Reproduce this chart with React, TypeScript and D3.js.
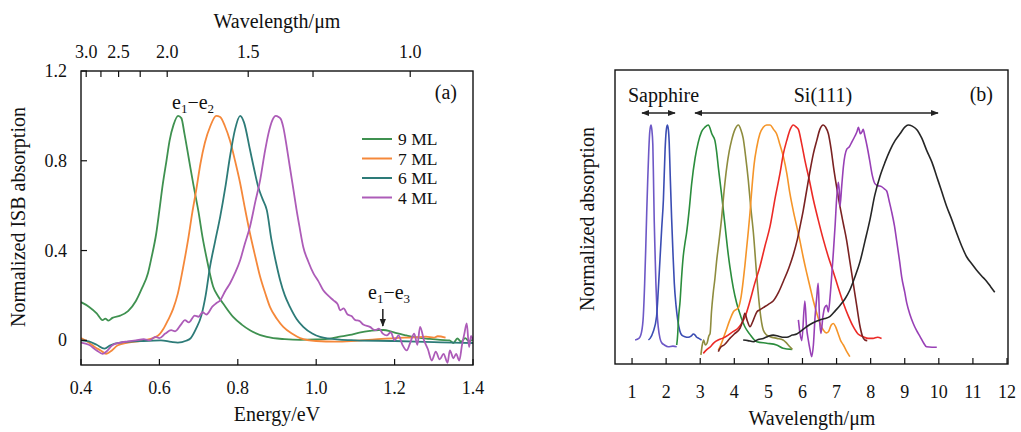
import React from "react";
import * as d3 from "d3";

type P = [number, number];

// ---------- Panel (a) data: energy (eV), normalized ISB absorption ----------
const ml9: P[] = [[0.40,0.17],[0.42,0.15],[0.44,0.12],[0.455,0.09],[0.462,0.097],[0.47,0.088],[0.48,0.10],[0.50,0.11],[0.52,0.13],[0.54,0.175],[0.555,0.23],[0.571,0.30],[0.58,0.37],[0.592,0.477],[0.60,0.58],[0.609,0.70],[0.618,0.80],[0.626,0.89],[0.636,0.96],[0.648,1.0],[0.656,0.99],[0.664,0.92],[0.675,0.81],[0.686,0.70],[0.70,0.57],[0.71,0.46],[0.72,0.37],[0.737,0.24],[0.75,0.195],[0.762,0.165],[0.788,0.104],[0.81,0.07],[0.831,0.045],[0.874,0.015],[0.92,0.005],[0.96,0.002],[1.0,0.004],[1.035,0.008],[1.06,0.016],[1.086,0.024],[1.11,0.034],[1.137,0.042],[1.16,0.046],[1.171,0.046],[1.19,0.04],[1.205,0.032],[1.23,0.022],[1.256,0.013],[1.29,0.006],[1.316,0.002],[1.34,0.0],[1.35,-0.012],[1.36,0.008],[1.37,-0.006],[1.38,0.01],[1.39,-0.004],[1.40,0.004]];
const ml7: P[] = [[0.40,0.01],[0.42,-0.01],[0.435,-0.03],[0.45,-0.045],[0.464,-0.06],[0.475,-0.05],[0.494,-0.022],[0.52,-0.01],[0.562,0.0],[0.596,0.02],[0.61,0.05],[0.622,0.09],[0.635,0.14],[0.647,0.208],[0.66,0.32],[0.673,0.446],[0.684,0.57],[0.694,0.67],[0.705,0.79],[0.716,0.88],[0.73,0.955],[0.745,1.0],[0.755,0.995],[0.767,0.955],[0.78,0.89],[0.793,0.80],[0.806,0.70],[0.818,0.59],[0.831,0.477],[0.845,0.37],[0.857,0.283],[0.87,0.21],[0.882,0.149],[0.90,0.095],[0.916,0.06],[0.94,0.028],[0.959,0.01],[1.0,-0.003],[1.05,-0.006],[1.1,-0.002],[1.15,0.004],[1.2,0.01],[1.25,0.013],[1.28,0.016],[1.3,0.012],[1.31,0.018],[1.33,0.012]];
const ml6: P[] = [[0.40,0.0],[0.42,-0.005],[0.44,-0.02],[0.46,-0.037],[0.475,-0.022],[0.50,-0.01],[0.55,-0.004],[0.604,0.0],[0.63,-0.007],[0.647,-0.01],[0.668,-0.002],[0.68,0.01],[0.693,0.05],[0.707,0.11],[0.718,0.2],[0.729,0.327],[0.742,0.44],[0.755,0.55],[0.768,0.68],[0.78,0.818],[0.793,0.94],[0.806,1.0],[0.816,0.97],[0.831,0.85],[0.842,0.76],[0.852,0.684],[0.863,0.63],[0.874,0.58],[0.886,0.446],[0.897,0.35],[0.908,0.268],[0.92,0.2],[0.933,0.149],[0.95,0.095],[0.967,0.06],[0.99,0.03],[1.01,0.015],[1.06,0.003],[1.1,0.0],[1.2,-0.003],[1.3,-0.008],[1.35,-0.01],[1.4,-0.012]];
const ml4: P[] = [[0.40,-0.01],[0.42,-0.02],[0.44,-0.045],[0.455,-0.06],[0.465,-0.05],[0.48,-0.022],[0.50,-0.01],[0.52,-0.005],[0.54,0.0],[0.56,0.005],[0.575,0.0],[0.59,0.015],[0.60,0.01],[0.615,0.03],[0.63,0.045],[0.64,0.04],[0.655,0.07],[0.665,0.09],[0.675,0.08],[0.69,0.11],[0.70,0.105],[0.71,0.125],[0.72,0.115],[0.735,0.15],[0.745,0.165],[0.755,0.178],[0.768,0.22],[0.78,0.253],[0.793,0.30],[0.806,0.357],[0.818,0.43],[0.831,0.506],[0.845,0.62],[0.857,0.714],[0.868,0.83],[0.878,0.92],[0.888,0.98],[0.897,1.0],[0.904,0.995],[0.91,0.985],[0.916,0.95],[0.925,0.86],[0.933,0.77],[0.942,0.67],[0.95,0.58],[0.958,0.50],[0.967,0.416],[0.98,0.35],[0.993,0.298],[1.005,0.265],[1.018,0.223],[1.03,0.2],[1.044,0.178],[1.055,0.16],[1.061,0.134],[1.07,0.142],[1.08,0.115],[1.09,0.108],[1.10,0.09],[1.11,0.087],[1.12,0.07],[1.137,0.06],[1.15,0.045],[1.16,0.052],[1.17,0.03],[1.18,0.022],[1.19,0.036],[1.2,0.0],[1.21,0.022],[1.22,-0.02],[1.231,-0.045],[1.24,-0.01],[1.25,0.03],[1.258,-0.02],[1.265,0.06],[1.275,0.0],[1.285,-0.04],[1.295,-0.09],[1.305,-0.05],[1.315,-0.085],[1.325,-0.06],[1.335,-0.1],[1.341,-0.045],[1.35,-0.08],[1.357,-0.06],[1.365,-0.09],[1.372,-0.02],[1.378,0.03],[1.384,0.075],[1.39,-0.03],[1.395,0.02],[1.40,0.0]];

const seriesA = [
  { name: "9 ML", color: "#3f9150", data: ml9 },
  { name: "7 ML", color: "#f5883a", data: ml7 },
  { name: "6 ML", color: "#2d7b78", data: ml6 },
  { name: "4 ML", color: "#ad5cb8", data: ml4 },
];
const legendOrder = ["9 ML", "7 ML", "6 ML", "4 ML"];
const ticksA_x = [0.4, 0.6, 0.8, 1.0, 1.2, 1.4];
const ticksA_y = [0, 0.4, 0.8, 1.2];
const topLabels = [3.0, 2.5, 2.0, 1.5, 1.0];
const topMinor = [2.75, 2.25, 1.25];

// ---------- Panel (b) data: wavelength (um), normalized absorption ----------
const sapphire1: P[] = [[1.09,0.023],[1.2,0.03],[1.28,0.06],[1.33,0.13],[1.37,0.28],[1.40,0.43],[1.43,0.6],[1.46,0.75],[1.49,0.88],[1.52,0.97],[1.555,1.0],[1.58,0.98],[1.61,0.91],[1.63,0.75],[1.65,0.57],[1.675,0.42],[1.70,0.28],[1.73,0.16],[1.77,0.08],[1.82,0.03],[1.87,0.01],[1.95,0.0],[2.06,-0.008],[2.2,-0.005],[2.31,-0.008]];
const sapphire2: P[] = [[1.48,0.023],[1.53,0.03],[1.62,0.06],[1.72,0.13],[1.77,0.25],[1.82,0.39],[1.87,0.53],[1.92,0.66],[1.97,0.89],[2.0,0.97],[2.035,1.0],[2.065,0.98],[2.09,0.92],[2.12,0.77],[2.16,0.58],[2.2,0.42],[2.24,0.28],[2.29,0.18],[2.34,0.114],[2.4,0.065],[2.46,0.045],[2.55,0.038],[2.65,0.035],[2.73,0.04],[2.8,0.05],[2.85,0.045],[2.9,0.035],[2.96,0.03],[3.04,0.023]];
const si1: P[] = [[2.31,0.0],[2.34,0.05],[2.36,0.114],[2.41,0.2],[2.45,0.3],[2.5,0.40],[2.55,0.46],[2.6,0.51],[2.68,0.62],[2.75,0.735],[2.85,0.85],[2.94,0.92],[3.04,0.97],[3.14,0.99],[3.24,1.0],[3.3,0.98],[3.34,0.96],[3.43,0.93],[3.48,0.88],[3.53,0.81],[3.63,0.68],[3.73,0.54],[3.8,0.44],[3.87,0.356],[3.97,0.26],[4.07,0.19],[4.19,0.13],[4.31,0.083],[4.45,0.05],[4.66,0.015],[4.95,0.008],[5.24,0.0],[5.43,-0.015],[5.7,-0.02]];
const si2: P[] = [[3.02,-0.045],[3.06,0.0],[3.1,0.023],[3.15,0.0],[3.2,0.008],[3.25,0.04],[3.29,0.053],[3.33,0.15],[3.38,0.235],[3.43,0.3],[3.48,0.38],[3.55,0.47],[3.63,0.58],[3.7,0.7],[3.78,0.81],[3.85,0.88],[3.92,0.93],[4.02,0.98],[4.12,1.0],[4.19,0.98],[4.26,0.94],[4.33,0.86],[4.41,0.75],[4.48,0.63],[4.56,0.51],[4.66,0.31],[4.75,0.16],[4.85,0.068],[4.95,0.045],[5.05,0.038],[5.25,0.03],[5.43,0.023],[5.63,-0.008],[5.7,-0.02]];
const si3: P[] = [[3.53,-0.023],[3.58,-0.008],[3.73,0.053],[3.87,0.114],[3.97,0.15],[4.12,0.17],[4.2,0.22],[4.31,0.36],[4.4,0.5],[4.46,0.6],[4.52,0.72],[4.58,0.82],[4.66,0.9],[4.75,0.96],[4.85,0.99],[4.95,1.0],[5.05,1.0],[5.15,0.98],[5.24,0.96],[5.34,0.91],[5.44,0.856],[5.54,0.78],[5.63,0.69],[5.73,0.61],[5.83,0.54],[5.93,0.47],[6.02,0.40],[6.12,0.33],[6.22,0.265],[6.32,0.2],[6.42,0.144],[6.51,0.1],[6.61,0.068],[6.7,0.055],[6.76,0.06],[6.84,0.09],[6.91,0.098],[6.98,0.08],[7.05,0.05],[7.12,0.02],[7.2,0.0],[7.3,-0.03],[7.39,-0.053]];
const si4: P[] = [[3.09,-0.038],[3.2,-0.02],[3.3,-0.008],[3.4,0.01],[3.53,0.023],[3.65,0.03],[3.82,0.045],[3.95,0.06],[4.1,0.075],[4.2,0.095],[4.32,0.13],[4.46,0.2],[4.6,0.28],[4.75,0.356],[4.9,0.45],[5.05,0.54],[5.2,0.67],[5.34,0.78],[5.44,0.87],[5.54,0.93],[5.64,0.98],[5.73,1.0],[5.82,0.99],[5.88,0.98],[5.97,0.92],[6.07,0.84],[6.2,0.75],[6.32,0.66],[6.46,0.57],[6.61,0.48],[6.76,0.4],[6.91,0.33],[7.05,0.26],[7.2,0.19],[7.35,0.13],[7.49,0.083],[7.63,0.05],[7.78,0.038],[7.93,0.03],[8.07,0.03],[8.2,0.035],[8.32,0.03]];
const si5: P[] = [[3.53,-0.03],[3.6,-0.01],[3.7,0.0],[3.87,0.03],[4.0,0.05],[4.17,0.077],[4.25,0.11],[4.31,0.144],[4.38,0.11],[4.46,0.083],[4.55,0.11],[4.66,0.15],[4.75,0.16],[4.85,0.17],[5.0,0.185],[5.14,0.2],[5.3,0.24],[5.44,0.29],[5.6,0.35],[5.73,0.41],[5.85,0.48],[5.93,0.54],[6.02,0.61],[6.12,0.70],[6.22,0.79],[6.32,0.87],[6.42,0.93],[6.51,0.98],[6.61,1.0],[6.68,0.99],[6.76,0.96],[6.84,0.89],[6.91,0.81],[7.0,0.72],[7.1,0.63],[7.2,0.55],[7.29,0.48],[7.39,0.38],[7.49,0.28],[7.59,0.18],[7.69,0.083],[7.76,0.04],[7.83,0.023],[7.9,0.02]];
const si6: P[] = [[5.88,0.114],[5.93,0.05],[5.98,0.02],[6.07,0.2],[6.12,0.08],[6.17,0.023],[6.22,-0.02],[6.27,-0.053],[6.32,0.0],[6.37,0.13],[6.42,0.22],[6.46,0.28],[6.5,0.12],[6.54,0.053],[6.6,0.13],[6.65,0.17],[6.71,0.18],[6.76,0.15],[6.81,0.22],[6.86,0.32],[6.91,0.43],[6.96,0.55],[7.0,0.66],[7.05,0.74],[7.08,0.7],[7.1,0.63],[7.15,0.72],[7.2,0.81],[7.3,0.89],[7.37,0.9],[7.44,0.92],[7.54,0.95],[7.6,0.97],[7.64,0.99],[7.7,0.96],[7.75,0.97],[7.78,0.98],[7.83,0.95],[7.9,0.9],[7.97,0.84],[8.05,0.77],[8.12,0.735],[8.2,0.725],[8.32,0.72],[8.4,0.71],[8.47,0.70],[8.55,0.65],[8.61,0.61],[8.7,0.54],[8.76,0.477],[8.85,0.38],[8.91,0.31],[9.0,0.24],[9.06,0.19],[9.15,0.14],[9.25,0.098],[9.35,0.065],[9.45,0.038],[9.55,0.01],[9.64,-0.008],[9.8,-0.01],[9.94,-0.01]];
const si7: P[] = [[4.26,0.023],[4.4,0.02],[4.56,0.015],[4.7,0.025],[4.85,0.03],[5.0,0.04],[5.14,0.045],[5.3,0.04],[5.45,0.035],[5.54,0.035],[5.7,0.045],[5.83,0.05],[5.97,0.065],[6.12,0.083],[6.3,0.1],[6.51,0.114],[6.66,0.12],[6.81,0.13],[6.96,0.155],[7.1,0.18],[7.25,0.21],[7.39,0.25],[7.54,0.31],[7.69,0.38],[7.83,0.47],[7.98,0.57],[8.12,0.68],[8.27,0.765],[8.42,0.83],[8.57,0.886],[8.72,0.93],[8.86,0.96],[9.0,0.99],[9.1,1.0],[9.22,0.995],[9.35,0.98],[9.5,0.94],[9.64,0.886],[9.8,0.83],[9.94,0.765],[10.08,0.7],[10.23,0.63],[10.38,0.57],[10.52,0.51],[10.67,0.45],[10.82,0.40],[10.96,0.37],[11.11,0.34],[11.25,0.315],[11.4,0.29],[11.52,0.265],[11.64,0.24]];

const seriesB = [
  { color: "#6d58c6", data: sapphire1 },
  { color: "#3b4db3", data: sapphire2 },
  { color: "#2b8d3d", data: si1 },
  { color: "#8e8c3e", data: si2 },
  { color: "#f59529", data: si3 },
  { color: "#ec2a26", data: si4 },
  { color: "#7a2222", data: si5 },
  { color: "#9840b6", data: si6 },
  { color: "#262626", data: si7 },
];
const ticksB_x = [1, 2, 3, 4, 5, 6, 7, 8, 9, 10, 11, 12];

const FONT = "'Liberation Serif', 'Times New Roman', serif";

export default function App() {
  // panel (a) scales
  const xA = d3.scaleLinear().domain([0.4, 1.4]).range([81, 473]);
  const yA = d3.scaleLinear().domain([-0.11, 1.2]).range([365, 71]);
  const lineA = d3.line<P>().x((d) => xA(d[0])).y((d) => yA(d[1])).curve(d3.curveMonotoneX);
  const eToX = (lam: number) => xA(1.23984 / lam);

  // panel (b) scales
  const xB = d3.scaleLinear().domain([0.5, 12]).range([615, 1007]);
  const yB = d3.scaleLinear().domain([-0.0864, 1.25]).range([364, 70]);
  const lineB = d3.line<P>().x((d) => xB(d[0])).y((d) => yB(d[1])).curve(d3.curveMonotoneX);

  const tickLen = 6;
  const legX = 362, legY0 = 139, legDy = 19.5;

  return (
    <svg width={1021} height={432} style={{ position: "absolute", left: 0, top: 0, background: "#fff" }} fontFamily={FONT}>
      <defs>
        <clipPath id="clipA"><rect x={81} y={71} width={392} height={294} /></clipPath>
        <clipPath id="clipB"><rect x={615} y={70} width={393} height={294} /></clipPath>
        <marker id="ah" viewBox="0 0 10 10" refX="9" refY="5" markerWidth="8" markerHeight="8" orient="auto-start-reverse" markerUnits="userSpaceOnUse">
          <path d="M0,1 L10,5 L0,9 Z" fill="#222" />
        </marker>
      </defs>

      {/* ================= Panel (a) ================= */}
      <g clipPath="url(#clipA)">
        {seriesA.map((s) => (
          <path key={s.name} d={lineA(s.data) || ""} fill="none" stroke={s.color} strokeWidth={1.8} strokeLinejoin="round" />
        ))}
      </g>
      <rect x={81} y={71} width={392} height={294} fill="none" stroke="#111" strokeWidth={1.4} />
      {ticksA_x.map((t) => (
        <g key={"ax" + t}>
          <line x1={xA(t)} x2={xA(t)} y1={365} y2={365 - tickLen} stroke="#111" strokeWidth={1.2} />
          <text x={xA(t)} y={394} fontSize={18} textAnchor="middle" fill="#111">{t.toFixed(1)}</text>
        </g>
      ))}
      {ticksA_y.map((t) => (
        <g key={"ay" + t}>
          <line x1={81} x2={81 + tickLen} y1={yA(t)} y2={yA(t)} stroke="#111" strokeWidth={1.2} />
          <text x={67} y={yA(t) + 6} fontSize={18} textAnchor="end" fill="#111">{t === 0 ? "0" : t.toFixed(1)}</text>
        </g>
      ))}
      {topLabels.map((l) => (
        <g key={"at" + l}>
          <line x1={eToX(l)} x2={eToX(l)} y1={71} y2={71 + tickLen} stroke="#111" strokeWidth={1.2} />
          <text x={eToX(l)} y={58} fontSize={18} textAnchor="middle" fill="#111">{l.toFixed(1)}</text>
        </g>
      ))}
      {topMinor.map((l) => (
        <line key={"am" + l} x1={eToX(l)} x2={eToX(l)} y1={71} y2={71 + tickLen} stroke="#111" strokeWidth={1.2} />
      ))}
      <text x={277} y={28} fontSize={20} textAnchor="middle" fill="#111">Wavelength/μm</text>
      <text x={277} y={421} fontSize={20} textAnchor="middle" fill="#111">Energy/eV</text>
      <text transform="translate(25,217) rotate(-90)" fontSize={20} textAnchor="middle" fill="#111">Normalized ISB absorption</text>
      <text x={457} y={99} fontSize={20} textAnchor="end" fill="#111">(a)</text>
      <text x={172} y={109} fontSize={20} fill="#111">
        e<tspan fontSize={13} dy={4}>1</tspan><tspan dy={-4}>−e</tspan><tspan fontSize={13} dy={4}>2</tspan>
      </text>
      <text x={368} y={299} fontSize={20} fill="#111">
        e<tspan fontSize={13} dy={4}>1</tspan><tspan dy={-4}>−e</tspan><tspan fontSize={13} dy={4}>3</tspan>
      </text>
      <line x1={xA(1.17)} x2={xA(1.17)} y1={309} y2={326} stroke="#111" strokeWidth={1.4} markerEnd="url(#ah)" />
      {legendOrder.map((n, i) => {
        const s = seriesA.find((q) => q.name === n)!;
        const y = legY0 + i * legDy;
        return (
          <g key={"lg" + n}>
            <line x1={legX} x2={legX + 30} y1={y} y2={y} stroke={s.color} strokeWidth={2} />
            <text x={legX + 36} y={y + 6} fontSize={17.5} fill="#111">{n}</text>
          </g>
        );
      })}

      {/* ================= Panel (b) ================= */}
      <g clipPath="url(#clipB)">
        {seriesB.map((s, i) => (
          <path key={"b" + i} d={lineB(s.data) || ""} fill="none" stroke={s.color} strokeWidth={1.6} strokeLinejoin="round" />
        ))}
      </g>
      <rect x={615} y={70} width={393} height={294} fill="none" stroke="#111" strokeWidth={1.4} />
      {ticksB_x.map((t) => (
        <g key={"bx" + t}>
          <line x1={xB(t)} x2={xB(t)} y1={364} y2={364 - tickLen} stroke="#111" strokeWidth={1.2} />
          <text x={xB(t)} y={398} fontSize={18} textAnchor="middle" fill="#111">{t}</text>
        </g>
      ))}
      <text x={812} y={425} fontSize={20} textAnchor="middle" fill="#111">Wavelength/μm</text>
      <text transform="translate(594,219) rotate(-90)" fontSize={20} textAnchor="middle" fill="#111">Normalized absorption</text>
      <text x={993} y={101} fontSize={20} textAnchor="end" fill="#111">(b)</text>
      <text x={628} y={102} fontSize={20} fill="#111">Sapphire</text>
      <text x={823} y={102} fontSize={20} textAnchor="middle" fill="#111">Si(111)</text>
      <line x1={642} x2={675} y1={113} y2={113} stroke="#222" strokeWidth={1.4} markerStart="url(#ah)" markerEnd="url(#ah)" />
      <line x1={695} x2={938} y1={113} y2={113} stroke="#222" strokeWidth={1.4} markerStart="url(#ah)" markerEnd="url(#ah)" />
    </svg>
  );
}
